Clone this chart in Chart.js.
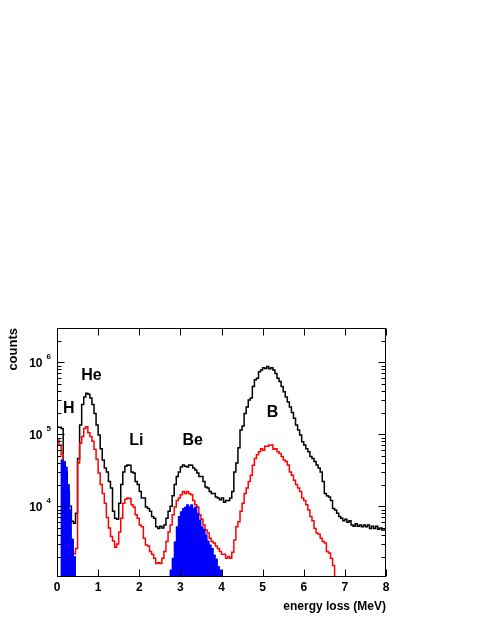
<!DOCTYPE html>
<html>
<head>
<meta charset="utf-8">
<script src="https://cdn.jsdelivr.net/npm/chart.js@4.4.1/dist/chart.umd.min.js"></script>
<style>
  html, body { margin: 0; padding: 0; background: #fff; }
  canvas { display: block; }
</style>
</head>
<body>
<canvas id="chart-eloss" width="491" height="635"></canvas>
<script>
// energy loss histograms, 0.05 MeV bins from 0 to 8 MeV
const BIN = 0.05;

// all particles (black)
const countsAll = [
  105000, 125000, 125000, 120000, 40000, 30000, 16000, 10000, 6200, 5800,
  8000, 46000, 135000, 260000, 330000, 370000, 360000, 320000, 260000, 195000,
  135000, 98000, 63000, 44000, 34000, 30000, 22000, 18000, 8500, 6800,
  6600, 11000, 20000, 30000, 36000, 37500, 37000, 30000, 29000, 22000,
  20000, 16000, 13000, 13000, 9800, 9300, 8500, 7200, 6800, 5200,
  4900, 5300, 5000, 5500, 6800, 8500, 10000, 14000, 20000, 26000,
  30000, 35000, 37500, 36000, 35000, 37500, 37000, 34000, 32000, 29000,
  26000, 26000, 22000, 18500, 18000, 16000, 15000, 15000, 13500, 13000,
  12300, 13000, 11400, 12000, 12000, 13000, 16000, 30000, 40000, 65000,
  115000, 130000, 195000, 240000, 300000, 320000, 460000, 570000, 600000, 740000,
  780000, 840000, 820000, 870000, 810000, 840000, 780000, 700000, 600000, 540000,
  460000, 390000, 330000, 280000, 240000, 200000, 167000, 135000, 115000, 98000,
  79000, 71000, 63000, 57000, 49000, 46000, 42000, 37500, 34000, 30000,
  22000, 15000, 14000, 13500, 12000, 9300, 8900, 8000, 7200, 6800,
  6300, 6600, 6000, 6300, 5500, 5300, 5700, 5300, 5500, 5200,
  5500, 5200, 5500, 4900, 5300, 4900, 5300, 4800, 5000, 4700
];

// selected events (red)
const countsSel = [
  90000, 83000, 71000, 52000, 26000, 12000, 4500, 3000, 2300, 2200,
  2600, 40000, 75000, 93000, 120000, 127000, 105000, 93000, 80000, 62000,
  45000, 29000, 20000, 15000, 11000, 7000, 5000, 3800, 3300, 2700,
  3000, 4400, 6800, 11000, 12500, 13000, 12800, 10500, 9800, 7600,
  6800, 5500, 5200, 3600, 2900, 2800, 2350, 2150, 1900, 1600,
  1650, 1600, 1900, 2350, 3230, 4400, 5500, 7600, 9800, 12000,
  13000, 14400, 16000, 15000, 16000, 15000, 14400, 12000, 10500, 9800,
  7600, 6600, 5500, 4700, 4250, 3600, 3230, 3080, 2800, 2600,
  2350, 2150, 2150, 1900, 2000, 1900, 2300, 3400, 5200, 6100,
  8500, 11000, 15000, 18000, 22000, 27000, 37000, 46000, 52000, 57000,
  63000, 60000, 68000, 68000, 71000, 71000, 62000, 63000, 57000, 54000,
  49000, 44000, 42000, 37500, 30000, 27000, 23000, 20000, 18000, 16000,
  13000, 12000, 10500, 8900, 7200, 6300, 4900, 4250, 4100, 3600,
  3230, 3100, 2350, 2250, 1900, 1500, 0, 0, 0, 0,
  0, 0, 0, 0, 0, 0, 0, 0, 0, 0,
  0, 0, 0, 0, 0, 0, 0, 0, 0, 0
];

// H and Be reference samples (blue, filled)
const countsRef = [
  0, 0, 44000, 42000, 35000, 20000, 8900, 3500, 2000, 0,
  0, 0, 0, 0, 0, 0, 0, 0, 0, 0,
  0, 0, 0, 0, 0, 0, 0, 0, 0, 0,
  0, 0, 0, 0, 0, 0, 0, 0, 0, 0,
  0, 0, 0, 0, 0, 0, 0, 0, 0, 0,
  0, 0, 0, 0, 0, 1300, 1900, 3200, 5200, 7200,
  8400, 9300, 9700, 10500, 9800, 10500, 9300, 9800, 8000, 6400,
  5200, 4800, 4000, 3300, 2900, 2600, 2100, 1850, 1450, 1300,
  0, 0, 0, 0, 0, 0, 0, 0, 0, 0,
  0, 0, 0, 0, 0, 0, 0, 0, 0, 0,
  0, 0, 0, 0, 0, 0, 0, 0, 0, 0,
  0, 0, 0, 0, 0, 0, 0, 0, 0, 0,
  0, 0, 0, 0, 0, 0, 0, 0, 0, 0,
  0, 0, 0, 0, 0, 0, 0, 0, 0, 0,
  0, 0, 0, 0, 0, 0, 0, 0, 0, 0,
  0, 0, 0, 0, 0, 0, 0, 0, 0, 0
];

// axes
const xTicks = [0, 1, 2, 3, 4, 5, 6, 7, 8];
const yDecades = [4, 5, 6];
const X_MIN = 0, X_MAX = 8;
const Y_MIN = 1042, Y_MAX = 2.99e6;

// peak labels (text, energy, counts where the baseline sits)
const peakNames = ['H', 'He', 'Li', 'Be', 'B'];
const peakE = [0.285, 0.84, 1.93, 3.3, 5.24];
const peakCounts = [1.98e5, 5.67e5, 7.1e4, 7.1e4, 1.74e5];

const FLOOR = 1; // empty bins drop below the log axis
const FONT = "'Liberation Sans', Arial, Helvetica, sans-serif";

// outline histogram: one point per lower bin edge, plus the closing edge
function outlinePoints(values) {
  const pts = values.map((v, i) => ({ x: i * BIN, y: Math.max(v, FLOOR) }));
  pts.push({ x: X_MAX, y: Math.max(values[values.length - 1], FLOOR) });
  return pts;
}

// filled histogram: one bar per bin centre (zero bins are skipped on log axis)
function barPoints(values) {
  return values.map((v, i) => ({ x: i * BIN + BIN / 2, y: v }));
}

const rootAxes = {
  id: 'rootAxes',
  afterDraw(chart) {
    const ctx = chart.ctx;
    const a = chart.chartArea;
    const xs = chart.scales.x, ys = chart.scales.y;
    const L = Math.round(a.left) + 0.5, R = Math.round(a.right) - 0.5;
    const T = Math.round(a.top) + 0.5, B = Math.round(a.bottom) - 0.5;

    ctx.save();
    ctx.strokeStyle = '#000';
    ctx.lineWidth = 1;
    ctx.strokeRect(L, T, R - L, B - T);

    // x ticks, top and bottom, pointing inward
    ctx.beginPath();
    xTicks.forEach(v => {
      const px = Math.round(xs.getPixelForValue(v)) + 0.5;
      ctx.moveTo(px, B); ctx.lineTo(px, B - 7);
      ctx.moveTo(px, T); ctx.lineTo(px, T + 7);
    });
    // y ticks on left and right
    for (let d = 3; d <= 6; d++) {
      for (let m = 1; m <= 9; m++) {
        const v = m * Math.pow(10, d);
        if (v < Y_MIN || v > Y_MAX) continue;
        const py = Math.round(ys.getPixelForValue(v)) + 0.5;
        const len = m === 1 ? 7 : 4;
        ctx.moveTo(L, py); ctx.lineTo(L + len, py);
        ctx.moveTo(R, py); ctx.lineTo(R - len, py);
      }
    }
    ctx.stroke();

    ctx.fillStyle = '#000';
    // x tick labels
    ctx.font = 'bold 12px ' + FONT;
    ctx.textAlign = 'center';
    ctx.textBaseline = 'alphabetic';
    xTicks.forEach(v => {
      ctx.fillText(String(v), xs.getPixelForValue(v), a.bottom + 14);
    });

    // y tick labels: 10 with exponent
    yDecades.forEach(d => {
      const py = ys.getPixelForValue(Math.pow(10, d));
      ctx.font = 'bold 12px ' + FONT;
      ctx.textAlign = 'right';
      ctx.fillText('10', 42.5, py + 4.5);
      ctx.font = 'bold 8px ' + FONT;
      ctx.textAlign = 'left';
      ctx.fillText(String(d), 46.5, py - 3);
    });

    // axis titles
    ctx.font = 'bold 12px ' + FONT;
    ctx.textAlign = 'right';
    ctx.fillText('energy loss (MeV)', a.right, a.bottom + 33);

    ctx.save();
    ctx.translate(17, a.top);
    ctx.rotate(-Math.PI / 2);
    ctx.font = 'bold 13px ' + FONT;
    ctx.textAlign = 'right';
    ctx.fillText('counts', 0, 0);
    ctx.restore();

    // peak names
    ctx.font = 'bold 16px ' + FONT;
    ctx.textAlign = 'center';
    peakNames.forEach((name, i) => {
      ctx.fillText(name, xs.getPixelForValue(peakE[i]), ys.getPixelForValue(peakCounts[i]));
    });
    ctx.restore();
  }
};

Chart.defaults.font.family = FONT;

new Chart(document.getElementById('chart-eloss'), {
  type: 'line',
  data: {
    datasets: [
      {
        type: 'bar',
        label: 'reference',
        data: barPoints(countsRef),
        backgroundColor: '#0000ff',
        borderWidth: 0,
        barPercentage: 1,
        categoryPercentage: 1,
        inflateAmount: 0.5,
        order: 0
      },
      {
        label: 'selected',
        data: outlinePoints(countsSel),
        stepped: 'after',
        borderColor: '#ff0000',
        borderWidth: 1.5,
        fill: false,
        clip: 0,
        order: 1
      },
      {
        label: 'all',
        data: outlinePoints(countsAll),
        stepped: 'after',
        borderColor: '#000000',
        borderWidth: 1.5,
        fill: false,
        clip: 0,
        order: 2
      }
    ]
  },
  options: {
    responsive: false,
    animation: false,
    devicePixelRatio: 1,
    layout: { padding: { left: 57, top: 328, right: 105, bottom: 58 } },
    elements: { point: { radius: 0 } },
    plugins: {
      legend: { display: false },
      tooltip: { enabled: false }
    },
    scales: {
      x: { type: 'linear', min: X_MIN, max: X_MAX, offset: false, display: false },
      y: { type: 'logarithmic', min: Y_MIN, max: Y_MAX, display: false }
    }
  },
  plugins: [rootAxes]
});
</script>
</body>
</html>
